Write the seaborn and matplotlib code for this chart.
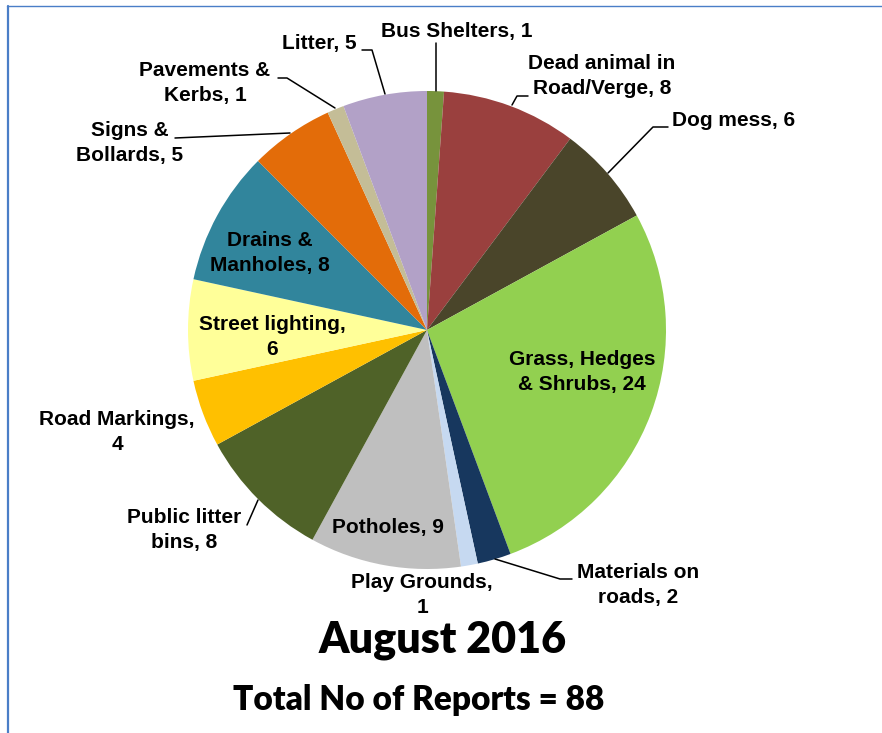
import matplotlib
matplotlib.use("Agg")
import matplotlib.pyplot as plt
import seaborn as sns
import numpy as np

categories = [
    "Bus Shelters", "Dead animal in\nRoad/Verge", "Dog mess", "Grass, Hedges\n& Shrubs",
    "Materials on\nroads", "Play Grounds,\n", "Potholes", "Public litter\nbins",
    "Road Markings,\n", "Street lighting,\n", "Drains &\nManholes", "Signs &\nBollards",
    "Pavements &\nKerbs", "Litter",
]
reports = [1, 8, 6, 24, 2, 1, 9, 8, 4, 6, 8, 5, 1, 5]
colours = [
    "#77933C", "#9A403E", "#4A452A", "#92D050", "#17375E", "#C6D9F1", "#BFBFBF",
    "#4F6228", "#FFC000", "#FFFF99", "#31859C", "#E36C09", "#C4BD97", "#B2A1C7",
]
title = "August 2016"
subtitle = "Total No of Reports = %d" % sum(reports)

# label layout in pixels: (text x, text y, leader points)
R, CX, CY = 239.0, 427.0, 330.0
label_px = [
    (457, 31, [(436, 91), (436, 43)]),
    (602, 76, [(512, 105), (517, 96), (528, 96)]),
    (734, 121, [(608, 173), (653, 127), (668, 127)]),
    (582, 372, None),
    (638, 585, [(495, 559), (560, 579), (572, 579)]),
    (422, 595, None),
    (388, 527, None),
    (184, 530, [(258, 500), (247, 525)]),
    (117, 432, None),
    (272, 337, None),
    (270, 253, None),
    (130, 143, [(175, 138), (290, 133)]),
    (205, 83, [(278, 78), (287, 78), (335, 108)]),
    (319, 43, [(362, 50), (372, 50), (385, 94)]),
]


def to_data(px, py):
    return (px - CX) / R, (CY - py) / R


sns.set_style("white")
plt.rcParams["font.family"] = ["Liberation Sans", "DejaVu Sans"]
plt.rcParams["text.color"] = "black"

fig = plt.figure(figsize=(8.82, 7.33), dpi=100)
ax = fig.add_axes([0, 0, 1, 1])
ax.pie(reports, colors=colours, startangle=90, counterclock=False, radius=1,
       wedgeprops=dict(linewidth=0))
ax.set_xlim(-CX / R, (882 - CX) / R)
ax.set_ylim(-(733 - CY) / R, CY / R)
ax.axis("off")

for name, n, (tx, ty, leader) in zip(categories, reports, label_px):
    if name.endswith("\n"):
        text = name + str(n)
    else:
        text = "%s, %d" % (name, n)
    x, y = to_data(tx, ty)
    ax.text(x, y, text, ha="center", va="center", fontsize=15,
            fontweight="bold", linespacing=1.35, color="black")
    if leader:
        pts = np.array([to_data(*p) for p in leader])
        ax.plot(pts[:, 0], pts[:, 1], color="black", lw=1.1)

fig.text(443 / 882, 1 - 640 / 733, title, ha="center", va="center", color="black",
         fontsize=31, fontweight="heavy", family=["Lato", "DejaVu Sans"])
fig.text(419 / 882, 1 - 700 / 733, subtitle, ha="center", va="center", color="black",
         fontsize=24, fontweight="heavy", family=["Lato", "DejaVu Sans"])

# frame lines
fig.add_artist(plt.Line2D([7.5 / 882, 7.5 / 882], [0, 1 - 6 / 733], color="#4A7EC7", lw=1.6,
                          transform=fig.transFigure))
fig.add_artist(plt.Line2D([7 / 882, 1], [1 - 6 / 733, 1 - 6 / 733], color="#4A7EC7", lw=1.0,
                          transform=fig.transFigure))

fig.savefig("out.png", dpi=100)
